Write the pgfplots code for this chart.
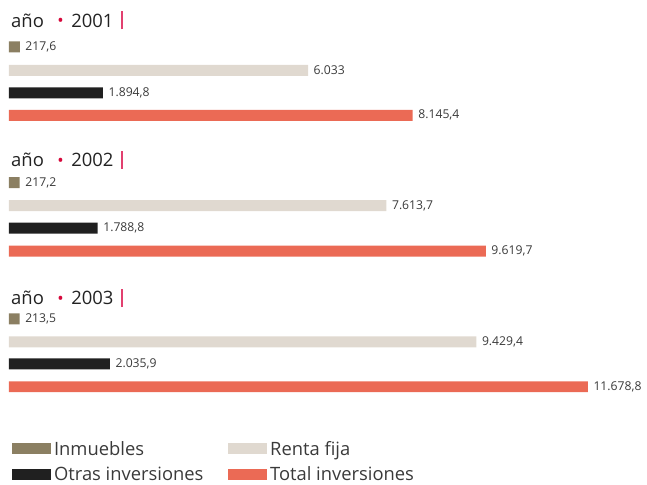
\documentclass[border=0pt]{standalone}
\usepackage{fontspec}
\setmainfont{Open Sans}
\usepackage{pgfplots}
\pgfplotsset{compat=1.18}

\definecolor{inmcol}{HTML}{8B7F62}
\definecolor{rentacol}{HTML}{E0D9D0}
\definecolor{otrascol}{HTML}{202020}
\definecolor{totalcol}{HTML}{EB6A55}
\definecolor{dotcol}{HTML}{D6083B}
\definecolor{barcol}{HTML}{E2406F}
\definecolor{txtcol}{HTML}{222222}
\definecolor{lblcol}{HTML}{3A3A3A}

% year heading: año • 2001 |
\newcommand{\anyo}[1]{{\fontsize{18.5}{22}\selectfont\color{txtcol}año\hspace{13.5pt}%
  {\color{dotcol}\fontsize{17}{17}\selectfont\raisebox{0.3pt}{•}}\hspace{7.5pt}#1\hspace{8pt}%
  {\color{barcol}\rule[-2.3pt]{1.8pt}{18.3pt}}}}

\begin{document}
\begin{tikzpicture}
  \begin{axis}[
      scale only axis,
      width=647pt, height=485pt,
      hide axis, clip=false,
      xmin=-181.2, xmax=12847,
      ymin=0, ymax=485, y dir=reverse,
      xbar, bar width=11, bar shift=0pt,
      every axis plot/.append style={draw=none},
      nodes near coords={\pgfmathprintnumber[fixed,precision=1,1000 sep={.},dec sep={,},assume math mode=true]{\pgfplotspointmeta}},
      nodes near coords align={horizontal},
      nodes near coords style={font=\fontsize{12.2}{14}\selectfont, text=lblcol, inner xsep=5.5pt},
      legend columns=2,
      legend image code/.code={\fill[#1] (0pt,-5.7pt) rectangle (38.7pt,5.7pt);},
      legend style={
        at={(axis description cs:0.018547,0.0872)}, anchor=north west,
        draw=none, fill=none, inner sep=0pt,
        font=\fontsize{18.4}{22}\selectfont, text=lblcol,
        nodes={inner sep=0pt, text height=13pt, text depth=0pt},
        cells={anchor=west},
        row sep=12.8pt,
        /tikz/every odd column/.append style={column sep=3.3pt},
      },
    ]
    \path (rel axis cs:0,0) rectangle (rel axis cs:1,1);

    % Inmuebles
    \addplot[fill=inmcol] coordinates {
      (217.6,47) (217.2,183) (213.5,319.5)
    };
    \addlegendentry{\makebox[174.5pt][l]{Inmuebles}}
    % Renta fija
    \addplot[fill=rentacol] coordinates {
      (6033,70.5) (7613.7,206) (9429.4,342.5)
    };
    \addlegendentry{Renta fija}
    % Otras inversiones
    \addplot[fill=otrascol] coordinates {
      (1894.8,93) (1788.8,228.5) (2035.9,364.5)
    };
    \addlegendentry{\makebox[174.5pt][l]{Otras inversiones}}
    % Total inversiones
    \addplot[fill=totalcol] coordinates {
      (8145.4,115.5) (9619.7,251.5) (11678.8,387.5)
    };
    \addlegendentry{Total inversiones}

    \node[anchor=base west, inner sep=0pt] at (axis cs:40,27.2) {\anyo{2001}};
    \node[anchor=base west, inner sep=0pt] at (axis cs:40,167) {\anyo{2002}};
    \node[anchor=base west, inner sep=0pt] at (axis cs:40,305.3) {\anyo{2003}};
  \end{axis}
\end{tikzpicture}
\end{document}
